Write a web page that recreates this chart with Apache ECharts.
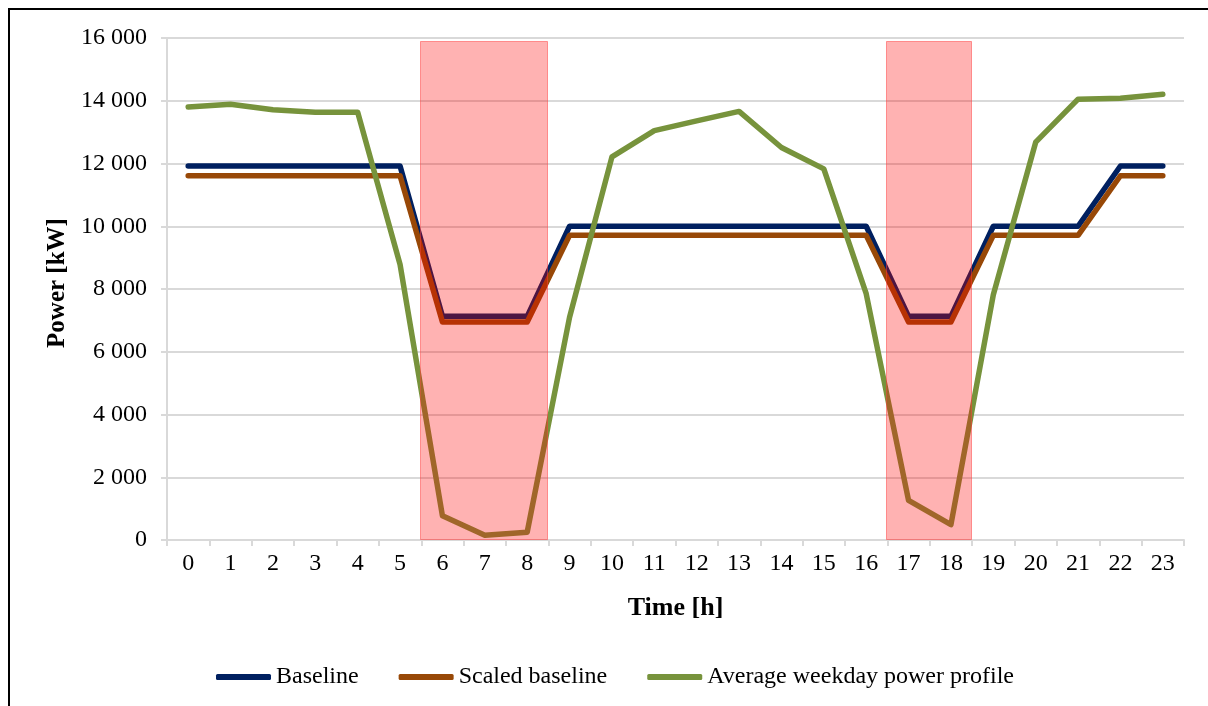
<!DOCTYPE html>
<html>
<head>
<meta charset="utf-8">
<script src="https://cdn.jsdelivr.net/npm/echarts@6/dist/echarts.min.js"></script>
<style>
  html, body { margin: 0; padding: 0; background: #fff; }
  #chart { width: 1208px; height: 706px; }
</style>
</head>
<body>
<div id="chart"></div>
<script>
// Hours of the day
const hours = ['0','1','2','3','4','5','6','7','8','9','10','11','12','13','14','15','16','17','18','19','20','21','22','23'];

// Power [kW] per hour
const baseline = [11920, 11920, 11920, 11920, 11920, 11920, 7130, 7130, 7130, 10000, 10000, 10000, 10000, 10000, 10000, 10000, 10000, 7130, 7130, 10000, 10000, 10000, 11920, 11920];
const scaledBaseline = [11610, 11610, 11610, 11610, 11610, 11610, 6950, 6950, 6950, 9710, 9710, 9710, 9710, 9710, 9710, 9710, 9710, 6950, 6950, 9710, 9710, 9710, 11610, 11610];
const weekdayProfile = [13800, 13890, 13710, 13630, 13630, 8780, 770, 150, 250, 7100, 12210, 13050, 13360, 13660, 12510, 11830, 7850, 1260, 490, 7820, 12680, 14050, 14080, 14210];

// Peak windows: [first hour, last hour, height in kW]
const peakWindows = [[6, 8, 15900], [17, 18, 15900]];

// Y axis ticks
const yMin = 0, yMax = 16000, yStep = 2000;

const serif = '"Liberation Serif", "Times New Roman", serif';

function thousands(v) {
  return String(v).replace(/\B(?=(\d{3})+(?!\d))/g, '\u00a0');
}

const chart = echarts.init(document.getElementById('chart'), null, { renderer: 'canvas' });

chart.setOption({
  animation: false,
  backgroundColor: '#ffffff',
  graphic: [{
    type: 'rect',
    shape: { x: 9, y: 9, width: 1400, height: 1000 },
    style: { fill: 'none', stroke: '#000', lineWidth: 2 },
    silent: true,
    z: 100
  }],
  grid: { left: 167, right: 24, top: 38, bottom: 166, containLabel: false },
  legend: {
    top: 660,
    left: 211,
    itemWidth: 55,
    itemHeight: 6,
    itemGap: 40,
    icon: 'roundRect',
    textStyle: { fontFamily: serif, fontSize: 24, color: '#000' },
    data: ['Baseline', 'Scaled baseline', 'Average weekday power profile']
  },
  xAxis: {
    type: 'category',
    data: hours,
    boundaryGap: true,
    name: 'Time [h]',
    nameLocation: 'middle',
    nameGap: 55,
    nameTextStyle: { fontFamily: serif, fontSize: 26, fontWeight: 'bold', color: '#000' },
    axisLine: { lineStyle: { color: '#d9d9d9', width: 2 } },
    axisTick: { show: true, interval: 0, length: 6, lineStyle: { color: '#d9d9d9', width: 2 } },
    axisLabel: { fontFamily: serif, fontSize: 24, color: '#000', margin: 12, interval: 0 },
    splitLine: { show: false }
  },
  yAxis: {
    type: 'value',
    min: yMin,
    max: yMax,
    interval: yStep,
    name: 'Power [kW]',
    nameLocation: 'middle',
    nameGap: 87,
    nameRotate: 90,
    nameTextStyle: { fontFamily: serif, fontSize: 25, fontWeight: 'bold', color: '#000', padding: [0, 0, 0, 12] },
    axisLine: { show: true, lineStyle: { color: '#d9d9d9', width: 2 } },
    axisTick: { show: true, length: 6, lineStyle: { color: '#d9d9d9', width: 2 } },
    axisLabel: { fontFamily: serif, fontSize: 24, color: '#000', margin: 20, formatter: thousands },
    splitLine: { show: true, lineStyle: { color: '#d9d9d9', width: 2 } }
  },
  series: [
    {
      name: 'Baseline',
      type: 'line',
      data: baseline,
      showSymbol: false,
      symbol: 'none',
      color: '#002060',
      lineStyle: { width: 5.5, color: '#002060', cap: 'round', join: 'round' },
      z: 3
    },
    {
      name: 'Scaled baseline',
      type: 'line',
      data: scaledBaseline,
      showSymbol: false,
      symbol: 'none',
      color: '#984807',
      lineStyle: { width: 5.5, color: '#984807', cap: 'round', join: 'round' },
      z: 4
    },
    {
      name: 'Average weekday power profile',
      type: 'line',
      data: weekdayProfile,
      showSymbol: false,
      symbol: 'none',
      color: '#77933c',
      lineStyle: { width: 5.5, color: '#77933c', cap: 'round', join: 'round' },
      z: 5
    },
    {
      name: 'Peak window',
      type: 'custom',
      data: peakWindows,
      encode: { x: [0, 1], y: 2 },
      z: 10,
      renderItem: function (params, api) {
        const top = api.coord([api.value(0), api.value(2)]);
        const end = api.coord([api.value(1), 0]);
        const band = api.size([1, 0])[0];
        const x0 = Math.round(top[0] - band / 2) - 0.5;
        const x1 = Math.round(end[0] + band / 2) - 0.5;
        return {
          type: 'rect',
          shape: { x: x0, y: Math.round(top[1]) + 0.5, width: x1 - x0, height: Math.round(end[1]) - Math.round(top[1]) - 1 },
          style: { fill: 'rgba(255,0,0,0.3)', stroke: 'rgba(255,60,60,0.5)', lineWidth: 1 }
        };
      }
    }
  ]
});
</script>
</body>
</html>
